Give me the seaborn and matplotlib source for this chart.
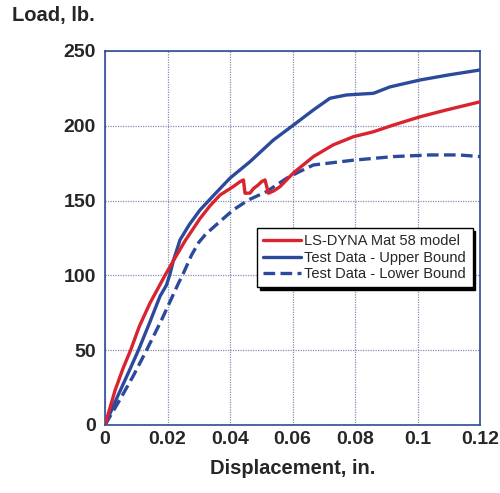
import numpy as np
import pandas as pd
import matplotlib
matplotlib.use("Agg")
import matplotlib.pyplot as plt
import seaborn as sns

sns.set_style("white")
plt.rcParams["font.family"] = ["Liberation Sans", "DejaVu Sans"]

# LS-DYNA Mat 58 model
model_disp = [0.0, 0.0032, 0.0058, 0.0082, 0.0110, 0.0144, 0.0170, 0.0192, 0.0225,
              0.0256, 0.0304, 0.0336, 0.0368, 0.0410, 0.0432, 0.0443, 0.0448, 0.0464,
              0.0475, 0.0490, 0.0501, 0.0512, 0.0523, 0.0540, 0.0560, 0.0603, 0.0667,
              0.0730, 0.0795, 0.0859, 0.0923, 0.1008, 0.1093, 0.1200]
model_load = [0.0, 23.0, 38.0, 50.0, 66.0, 81.5, 91.5, 100.0, 112.0,
              123.0, 138.0, 146.5, 153.7, 159.3, 162.6, 163.8, 154.9, 155.0,
              158.0, 160.4, 162.6, 163.8, 154.9, 156.5, 159.3, 168.5, 179.4,
              187.2, 192.7, 196.0, 200.5, 206.0, 210.6, 216.0]

# Test data - upper bound
upper_disp = [0.0, 0.0040, 0.0075, 0.0107, 0.0144, 0.0176, 0.0197, 0.0208, 0.0219,
              0.0240, 0.0270, 0.0304, 0.0350, 0.0400, 0.0464, 0.0539, 0.0600, 0.0667,
              0.0720, 0.0773, 0.0859, 0.0912, 0.1008, 0.1100, 0.1200]
upper_load = [0.0, 19.0, 35.0, 50.0, 69.0, 86.0, 93.6, 101.0, 110.0,
              123.7, 134.0, 143.7, 154.0, 165.0, 176.0, 190.5, 200.0, 210.6,
              218.4, 220.6, 221.7, 226.0, 230.6, 234.0, 237.3]

# Test data - lower bound
lower_disp = [0.0, 0.0048, 0.0091, 0.0133, 0.0181, 0.0213, 0.0235, 0.0250, 0.0277,
              0.0300, 0.0322, 0.0357, 0.0410, 0.0459, 0.0517, 0.0581, 0.0624, 0.0667,
              0.0795, 0.0923, 0.1040, 0.1133, 0.1200]
lower_load = [0.0, 17.0, 33.0, 50.0, 70.2, 84.7, 94.7, 101.0, 113.6,
              122.0, 127.5, 134.0, 143.7, 150.4, 156.0, 164.9, 169.5, 173.8,
              177.0, 179.4, 180.5, 180.5, 179.4]

series_labels = ["LS-DYNA Mat 58 model", "Test Data - Upper Bound", "Test Data - Lower Bound"]
x_ticks = [0, 0.02, 0.04, 0.06, 0.08, 0.1, 0.12]
x_tick_labels = ["0", "0.02", "0.04", "0.06", "0.08", "0.1", "0.12"]
y_ticks = [0, 50, 100, 150, 200, 250]

red = "#d9232e"
blue = "#2c4a9b"
spine_col = "#2f4a99"

fig = plt.figure(figsize=(5.0, 4.93), dpi=100)
ax = fig.add_axes([0.21, 0.138, 0.75, 0.7586])

df_model = pd.DataFrame({"disp": model_disp, "load": model_load})
df_upper = pd.DataFrame({"disp": upper_disp, "load": upper_load})
df_lower = pd.DataFrame({"disp": lower_disp, "load": lower_load})

sns.lineplot(data=df_model, x="disp", y="load", ax=ax, color=red, lw=2.4,
             sort=False, estimator=None, label=series_labels[0], zorder=4)
sns.lineplot(data=df_upper, x="disp", y="load", ax=ax, color=blue, lw=2.4,
             sort=False, estimator=None, label=series_labels[1], zorder=3)
sns.lineplot(data=df_lower, x="disp", y="load", ax=ax, color=blue, lw=2.4,
             sort=False, estimator=None, label=series_labels[2], zorder=3)
ax.lines[-1].set_dashes([3.5, 1.6])
for ln in ax.lines:
    ln.set_solid_joinstyle("round")
    ln.set_dash_joinstyle("round")

ax.set_xlim(0, 0.12)
ax.set_ylim(0, 250)
ax.set_xticks(x_ticks)
ax.set_xticklabels(x_tick_labels)
ax.set_yticks(y_ticks)
ax.tick_params(axis="x", length=0, labelsize=14, pad=4)
ax.tick_params(axis="y", length=0, labelsize=14, pad=6.5)
for lbl in ax.get_xticklabels() + ax.get_yticklabels():
    lbl.set_fontweight("bold")

ax.grid(True, color="#8a8fb0", lw=0.9, ls=(0, (1, 1)))
for s in ax.spines.values():
    s.set_color(spine_col)
    s.set_linewidth(1.2)

ax.set_xlabel("Displacement, in.", fontsize=14.5, fontweight="bold", labelpad=8)
ax.set_ylabel("")
fig.text(0.025, 0.9686, "Load, lb.", fontsize=14.5, fontweight="bold", ha="left", va="center")

leg = ax.legend(loc="upper left", bbox_to_anchor=(0.405, 0.527), borderaxespad=0,
                fancybox=False, frameon=True, edgecolor="black", framealpha=1,
                fontsize=10.5, handlelength=2.6, handletextpad=0.2, labelspacing=0.15,
                borderpad=0.45, shadow={"color": "black", "alpha": 1.0})
leg.get_frame().set_linewidth(1.0)

fig.savefig("out.png", dpi=100)
